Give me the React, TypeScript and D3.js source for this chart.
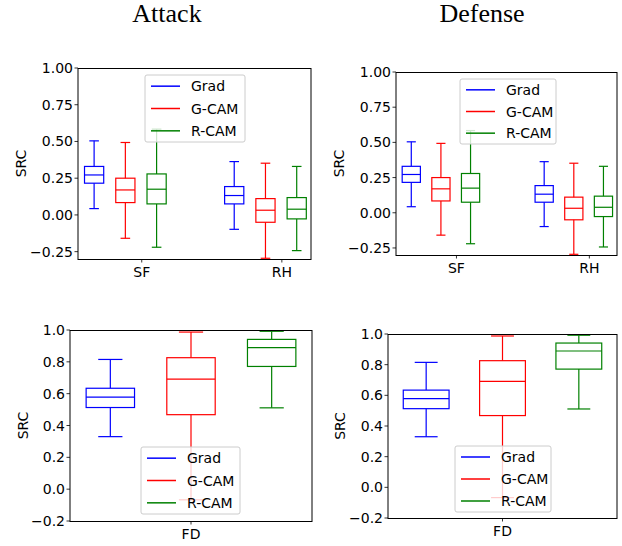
import React from "react";
import * as d3 from "d3";

const methods = ["Grad", "G-CAM", "R-CAM"];
const colors = ["#0000ff", "#ff0000", "#008000"];
const topCategories = ["SF", "RH"];
const bottomCategories = ["FD"];
const titles = ["Attack", "Defense"];

// [lower whisker, Q1, median, Q3, upper whisker] per category
const gradTop = [[0.043, 0.216, 0.272, 0.33, 0.504], [-0.098, 0.075, 0.132, 0.193, 0.363]];
const gcamTop = [[-0.159, 0.084, 0.17, 0.25, 0.493], [-0.295, -0.05, 0.032, 0.111, 0.352]];
const rcamTop = [[-0.22, 0.075, 0.175, 0.279, 0.584], [-0.243, -0.027, 0.039, 0.118, 0.33]];
const gradBottom = [[0.33, 0.513, 0.578, 0.634, 0.815]];
const gcamBottom = [[-0.067, 0.468, 0.691, 0.826, 0.987]];
const rcamBottom = [[0.511, 0.771, 0.889, 0.941, 0.992]];

const topTicks = [-0.25, 0, 0.25, 0.5, 0.75, 1.0];
const bottomTicks = [-0.2, 0, 0.2, 0.4, 0.6, 0.8, 1.0];

const FONT = "'DejaVu Sans', sans-serif";

type PanelProps = {
  left: number; top: number; right: number; bottom: number;
  kind: "top" | "bottom";
  legend: { x: number; y: number; w: number; h: number };
  ylabX: number;
};

function Panel({ left, top, right, bottom, kind, legend, ylabX }: PanelProps) {
  const isTop = kind === "top";
  const cats = isTop ? topCategories : bottomCategories;
  const series = isTop ? [gradTop, gcamTop, rcamTop] : [gradBottom, gcamBottom, rcamBottom];
  const ticks = isTop ? topTicks : bottomTicks;
  const y = d3.scaleLinear().domain(isTop ? [-0.3, 1.0] : [-0.2, 1.0]).range([bottom, top]);
  const x = d3.scaleLinear().domain(isTop ? [-0.338, 1.325] : [0.5, 3.5]).range([left, right]);
  const offset = isTop ? 0.223 : 1;
  const bw = isTop ? 0.137 : 0.6;
  const fmt = isTop ? d3.format(".2f") : d3.format(".1f");
  const pos = (ci: number, mi: number) => (isTop ? ci + (mi - 1) * offset : mi + 1);
  const tickPos = (ci: number) => (isTop ? ci + 0.117 : 2);

  const boxes: React.ReactNode[] = [];
  series.forEach((s, mi) => {
    s.forEach((st, ci) => {
      const c = x(pos(ci, mi));
      const hw = (x(bw) - x(0)) / 2;
      const [lo, q1, med, q3, hi] = st;
      const col = colors[mi];
      boxes.push(
        <g key={`${mi}-${ci}`} stroke={col} strokeWidth={1.2} fill="none">
          <line x1={c} x2={c} y1={y(q3)} y2={y(hi)} />
          <line x1={c} x2={c} y1={y(q1)} y2={y(lo)} />
          <line x1={c - hw / 2} x2={c + hw / 2} y1={y(hi)} y2={y(hi)} />
          <line x1={c - hw / 2} x2={c + hw / 2} y1={y(lo)} y2={y(lo)} />
          <rect x={c - hw} y={y(q3)} width={2 * hw} height={y(q1) - y(q3)} />
          <line x1={c - hw} x2={c + hw} y1={y(med)} y2={y(med)} />
        </g>
      );
    });
  });

  const rowH = legend.h / 3;
  return (
    <g>
      {boxes}
      <g>
        <rect x={legend.x} y={legend.y} width={legend.w} height={legend.h} rx={2}
          fill="white" fillOpacity={0.8} stroke="#cccccc" strokeWidth={1} />
        {methods.map((m, i) => {
          const ry = legend.y + rowH * (i + 0.5);
          return (
            <g key={m}>
              <line x1={legend.x + 6} x2={legend.x + 35} y1={ry} y2={ry} stroke={colors[i]} strokeWidth={1.5} />
              <text x={legend.x + 46} y={ry + 5} fontSize={14} fontFamily={FONT} fill="#000">{m}</text>
            </g>
          );
        })}
      </g>
      {/* spines */}
      <line x1={left} x2={right} y1={top + 0.5} y2={top + 0.5} stroke="#000" strokeWidth={1} />
      <line x1={left} x2={right} y1={bottom + 0.5} y2={bottom + 0.5} stroke="#000" strokeWidth={1} />
      <line x1={left} x2={left} y1={top} y2={bottom + 1} stroke="#000" strokeWidth={1} />
      <line x1={right} x2={right} y1={top} y2={bottom + 1} stroke="#000" strokeWidth={1} />
      {ticks.map((t) => (
        <g key={t}>
          <line x1={left - 3.5} x2={left} y1={y(t)} y2={y(t)} stroke="#000" strokeWidth={0.8} />
          <text x={left - 5} y={y(t) + 5} textAnchor="end" fontSize={14} fontFamily={FONT} fill="#000">
            {fmt(t).replace("-", "\u2212")}
          </text>
        </g>
      ))}
      {cats.map((c, ci) => (
        <g key={c}>
          <line x1={x(tickPos(ci))} x2={x(tickPos(ci))} y1={bottom} y2={bottom + 3.5} stroke="#000" strokeWidth={0.8} />
          <text x={x(tickPos(ci))} y={bottom + 18} textAnchor="middle" fontSize={14} fontFamily={FONT} fill="#000">{c}</text>
        </g>
      ))}
      <text transform={`translate(${ylabX},${(top + bottom) / 2}) rotate(-90)`} textAnchor="middle"
        fontSize={14} fontFamily={FONT} fill="#000" dy={5}>SRC</text>
    </g>
  );
}

export default function App() {
  return (
    <svg width={622} height={546} style={{ position: "absolute", left: 0, top: 0, background: "white" }}>
      <rect width={622} height={546} fill="white" />
      <text x={167} y={22} textAnchor="middle" fontSize={26} fontFamily="'Liberation Serif', 'Times New Roman', serif" fill="#000">{titles[0]}</text>
      <text x={482} y={22} textAnchor="middle" fontSize={26} fontFamily="'Liberation Serif', 'Times New Roman', serif" fill="#000">{titles[1]}</text>
      <Panel left={78} top={68} right={311} bottom={259} kind="top"
        legend={{ x: 145, y: 75, w: 100, h: 67 }} ylabX={21} />
      <Panel left={396} top={72} right={617} bottom={255} kind="top"
        legend={{ x: 460, y: 79, w: 96, h: 65 }} ylabX={339} />
      <Panel left={70} top={330} right={312} bottom={521} kind="bottom"
        legend={{ x: 141, y: 447, w: 99, h: 67 }} ylabX={23} />
      <Panel left={388} top={334} right={617} bottom={518} kind="bottom"
        legend={{ x: 455, y: 446, w: 96, h: 66 }} ylabX={340} />
    </svg>
  );
}
